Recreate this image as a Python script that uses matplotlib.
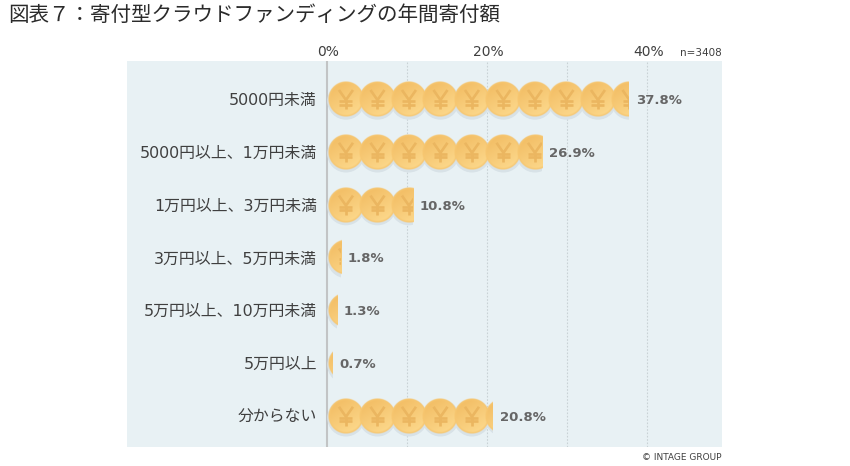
'''
Yearly donation amount for donation-type crowdfunding, drawn as coin bars.
'''
import numpy as np
import matplotlib
matplotlib.use('Agg')
import matplotlib.pyplot as plt
from matplotlib.patches import Ellipse

plt.rcParams['font.family'] = ['DejaVu Sans', 'Noto Sans CJK JP']

title = '図表７：寄付型クラウドファンディングの年間寄付額'
categories = ['5000円未満', '5000円以上、1万円未満', '1万円以上、3万円未満', '3万円以上、5万円未満',
              '5万円以上、10万円未満', '5万円以上', '分からない']
values = [37.8, 26.9, 10.8, 1.8, 1.3, 0.7, 20.8]
x_ticks = [0, 10, 20, 30, 40]
x_tick_labels = ['0%', '', '20%', '', '40%']

FIG_W, FIG_H = 850, 466
LEFT, RIGHT, TOP, BOTTOM = 127, 722, 61, 447
PX_PER_PCT = 8.0
ROW_PX = 52.8
COIN_R = 18 / PX_PER_PCT
COIN_R_Y = 18 / ROW_PX
COIN_STEP = 31.5 / PX_PER_PCT
TEXT_GREY = '#3f3f3f'
YEN_COLOR = '#ebb660'


def make_coin(size=72):
    # shading for one coin: warm centre, lighter rim at the top and lower right
    yy, xx = np.mgrid[-1:1:size * 1j, -1:1:size * 1j]
    r = np.hypot(xx, yy)
    shade = 0.5 + 0.5 * np.clip(xx * 0.5 + yy * 0.8, -1, 1)
    dark = np.array([0.95, 0.74, 0.39])
    light = np.array([0.99, 0.85, 0.55])
    rgb = dark[None, None, :] * (1 - shade[..., None]) + light[None, None, :] * shade[..., None]
    rim = np.clip((r - 0.86) / 0.1, 0, 1)[..., None]
    rgb = rgb * (1 - rim) + np.array([0.97, 0.78, 0.44])[None, None, :] * rim
    alpha = np.clip((1 - r) * size / 2, 0, 1)
    return np.dstack([rgb, alpha])


def draw_yen(ax, cx, row, clip):
    # yen sign as plain strokes, sizes in pixels around the coin centre
    sx = 1 / PX_PER_PCT
    sy = 1 / ROW_PX
    strokes = [([-7, 0, 7], [-9, 1, -9]), ([0, 0], [1, 10]), ([-6.5, 6.5], [2, 2]), ([-6.5, 6.5], [5.5, 5.5])]
    for xs, ys in strokes:
        line, = ax.plot([cx + v * sx for v in xs], [row + v * sy for v in ys], color=YEN_COLOR,
                        lw=1.9, solid_capstyle='butt', zorder=5)
        line.set_clip_path(clip)


fig = plt.figure(figsize=(FIG_W / 100, FIG_H / 100), dpi=100)
ax = fig.add_axes([LEFT / FIG_W, 1 - BOTTOM / FIG_H, (RIGHT - LEFT) / FIG_W, (BOTTOM - TOP) / FIG_H])
ax.set_facecolor('#e8f1f4')

for s in ax.spines.values():
    s.set_visible(False)
ax.set_xticks([])
ax.set_yticks([])

for t in x_ticks[1:]:
    ax.axvline(t, color='#c9d2d5', lw=0.8, ls=(0, (1.5, 1.5)), zorder=1)
ax.axvline(0, color='#c2c4c5', lw=1.5, zorder=1)

coin = make_coin()
rows = np.arange(len(categories))
bars = ax.barh(rows, values, height=44 / ROW_PX, color='none', edgecolor='none', zorder=2)

TEXT_DY = 1.5 / ROW_PX
for row, val, cat, bar in zip(rows, values, categories, bars):
    centre = COIN_R + 0.12
    while centre - COIN_R < val:
        shadow = Ellipse((centre, row + 2 / ROW_PX), 2 * COIN_R, 2 * COIN_R_Y, color='#d8e2e7', zorder=3)
        ax.add_patch(shadow)
        shadow.set_clip_path(bar)
        img = ax.imshow(coin, extent=(centre - COIN_R, centre + COIN_R, row + COIN_R_Y, row - COIN_R_Y),
                        aspect='auto', zorder=4, interpolation='bilinear')
        img.set_clip_path(bar)
        draw_yen(ax, centre, row, bar)
        centre += COIN_STEP
    ax.text(val + 6.5 / PX_PER_PCT, row + TEXT_DY, f'{val:.1f}%', color='#666666', fontsize=9.5, fontweight='bold',
            ha='left', va='center', zorder=6)
    ax.text(-10 / PX_PER_PCT, row + TEXT_DY, cat, color=TEXT_GREY, fontsize=11.4, ha='right', va='center', zorder=6)

ax.set_xlim(-200 / PX_PER_PCT, 395 / PX_PER_PCT)
# first row centre sits at y=99 px
ax.set_ylim((BOTTOM - 99) / ROW_PX, (TOP - 99) / ROW_PX)

for t, lab in zip(x_ticks, x_tick_labels):
    if lab:
        ax.annotate(lab, (t, 1), xycoords=('data', 'axes fraction'), xytext=(1.5, 9), textcoords='offset pixels',
                    ha='center', va='center', fontsize=10, color=TEXT_GREY)

fig.text(8 / FIG_W, 1 - 15 / FIG_H, title, fontsize=14.8, color='#2b2b2b', ha='left', va='center',
         family=['Noto Sans CJK JP', 'DejaVu Sans'])
fig.text(722 / FIG_W, 1 - 53 / FIG_H, 'n=3408', fontsize=7.5, color=TEXT_GREY, ha='right', va='center')
fig.text(721 / FIG_W, 1 - 457 / FIG_H, '© INTAGE GROUP', fontsize=6.5, color=TEXT_GREY, ha='right', va='center')

fig.savefig('out.png', dpi=100)
